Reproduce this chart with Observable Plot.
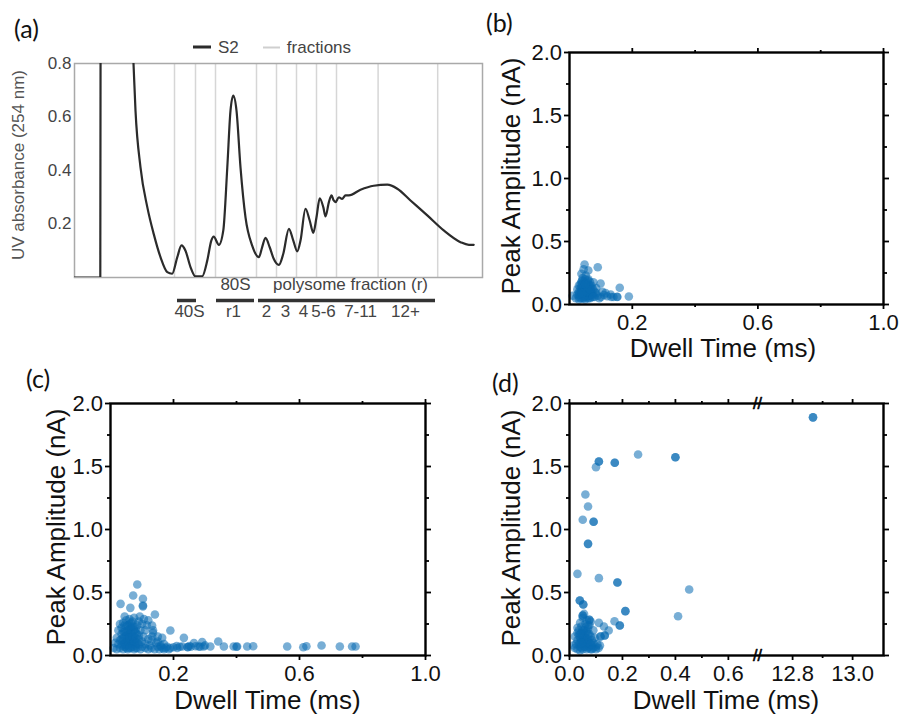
<!DOCTYPE html>
<html><head><meta charset="utf-8">
<script src="https://cdn.jsdelivr.net/npm/d3@7"></script>
<script src="https://cdn.jsdelivr.net/npm/@observablehq/plot@0.6"></script>
<style>
body{margin:0;background:#fff;}
#fig{position:relative;width:899px;height:714px;overflow:hidden;background:#fff;font-family:"Liberation Sans",Arial,sans-serif;}
.box{position:absolute;z-index:1;}
.t{position:absolute;white-space:nowrap;line-height:1;z-index:5;}
.plabel{font-family:Lato,"Open Sans",sans-serif;font-size:25px;color:#111;}
</style></head><body><div id="fig"></div>
<script>
// ---------------- Panel (a): UV absorbance trace ----------------
const traceX = [0,6.45,6.55,10,14,14.75,15.25,16.5,18.2,19.8,21.5,23.2,24.4,25.7,26.75,27.75,29,30.25,31.9,33.2,34.2,34.8,36.1,37.2,38.2,39,39.7,40.5,41.5,42.75,44.4,46.1,46.9,47.75,48.8,49.8,51.1,52.2,53.6,54.7,55.7,56.5,57.75,58.8,59.7,60.5,61.3,62.2,62.75,63.6,64.25,64.8,65.25,66.1,66.9,67.75,68.6,71.5,74.8,78.2,80.7,84,88.2,92.3,96.5,98.6,99.8];
const traceY = [0,0,1.3,1.6,1.0,0.8,0.624,0.412,0.263,0.163,0.076,0.02,0.014,0.076,0.12,0.1,0.039,0.004,0.004,0.064,0.138,0.153,0.122,0.176,0.412,0.624,0.68,0.624,0.412,0.225,0.12,0.076,0.113,0.148,0.113,0.07,0.047,0.089,0.182,0.138,0.098,0.138,0.257,0.213,0.167,0.225,0.296,0.263,0.228,0.282,0.307,0.288,0.282,0.3,0.294,0.307,0.307,0.328,0.343,0.347,0.332,0.288,0.232,0.176,0.132,0.122,0.122];
const fractionEdges = [25,30.25,35.25,45.5,50.5,55.5,60.5,65.5,75.9,90.8];
const groupNames = ["40S","80S","polysome fraction (r)"];
const groupStart = [25.75,35.5,46];
const groupEnd = [30.5,45,90.25];
const groupTitleX = [null,40.25,69];
const fractionNames = ["40S","r1","2","3","4","5-6","7-11","12+"];
const fractionNameX = [28.75,39.75,48,52.75,57.25,62.25,71.5,82.75];
const uvTicks = [0.2,0.4,0.6,0.8];

// ---------------- Panels (b)-(d): dwell time (ms), peak amplitude (nA) ----------------
const panelB = [
[0.02,0.05],[0.025,0.08],[0.03,0.06],[0.03,0.1],[0.035,0.13],[0.035,0.05],[0.04,0.07],[0.04,0.16],[0.04,0.19],[0.045,0.09],
[0.045,0.12],[0.045,0.05],[0.05,0.06],[0.05,0.14],[0.05,0.2],[0.055,0.08],[0.055,0.11],[0.055,0.17],[0.06,0.05],[0.06,0.09],
[0.06,0.13],[0.065,0.07],[0.065,0.15],[0.07,0.06],[0.07,0.1],[0.075,0.08],[0.075,0.12],[0.08,0.06],[0.085,0.09],[0.09,0.07],
[0.03,0.04],[0.035,0.08],[0.04,0.11],[0.045,0.15],[0.05,0.1],[0.05,0.04],[0.055,0.06],[0.06,0.11],[0.065,0.05],[0.07,0.13],
[0.038,0.18],[0.048,0.17],[0.058,0.19],[0.042,0.21],[0.052,0.23],[0.025,0.12],[0.03,0.15],[0.065,0.18],[0.07,0.08],[0.08,0.1],
[0.035,0.1],[0.04,0.13],[0.045,0.07],[0.05,0.08],[0.05,0.12],[0.055,0.14],[0.06,0.07],[0.06,0.16],[0.065,0.1],[0.07,0.15],
[0.035,0.16],[0.04,0.05],[0.045,0.18],[0.055,0.1],[0.06,0.2],[0.065,0.12],[0.075,0.06],[0.03,0.08],[0.04,0.09],[0.05,0.16],
[0.048,0.317],[0.09,0.296],[0.16,0.133],[0.189,0.063],[0.038,0.244],[0.131,0.079],[0.099,0.167],[0.076,0.177],[0.01,0.07],[0.1,0.06],
[0.11,0.075],[0.12,0.065],[0.14,0.06],[0.152,0.06],[0.105,0.1],[0.085,0.13],[0.095,0.05],[0.133,0.06],[0.06,0.27],[0.045,0.28],
[0.152,0.062],[0.115,0.09]
];
const panelC = [
[0.02,0.05],[0.025,0.09],[0.03,0.06],[0.03,0.12],[0.035,0.17],[0.035,0.22],[0.04,0.05],[0.04,0.09],[0.04,0.14],[0.04,0.26],
[0.045,0.19],[0.045,0.07],[0.05,0.11],[0.05,0.16],[0.05,0.23],[0.05,0.28],[0.055,0.05],[0.055,0.08],[0.055,0.13],[0.055,0.2],
[0.06,0.1],[0.06,0.17],[0.06,0.25],[0.06,0.29],[0.065,0.06],[0.065,0.14],[0.065,0.22],[0.07,0.09],[0.07,0.12],[0.07,0.19],
[0.07,0.27],[0.075,0.05],[0.075,0.15],[0.08,0.08],[0.08,0.11],[0.08,0.21],[0.085,0.06],[0.085,0.17],[0.09,0.09],[0.09,0.13],
[0.095,0.05],[0.095,0.2],[0.1,0.07],[0.1,0.11],[0.105,0.15],[0.11,0.06],[0.11,0.09],[0.115,0.24],[0.12,0.05],[0.12,0.13],
[0.125,0.08],[0.13,0.06],[0.135,0.18],[0.14,0.05],[0.145,0.1],[0.15,0.07],[0.155,0.05],[0.16,0.08],[0.165,0.06],[0.17,0.05],
[0.175,0.06],[0.18,0.07],[0.185,0.05],[0.01,0.06],[0.015,0.1],[0.02,0.14],[0.025,0.2],[0.03,0.25],[0.045,0.31],[0.075,0.3],
[0.09,0.27],[0.1,0.25],[0.11,0.2],[0.12,0.28],[0.045,0.1],[0.055,0.16],[0.065,0.1],[0.075,0.2],[0.05,0.06],[0.06,0.21],
[0.04,0.11],[0.045,0.15],[0.05,0.08],[0.05,0.19],[0.055,0.11],[0.055,0.24],[0.06,0.06],[0.06,0.14],[0.065,0.18],[0.065,0.26],
[0.07,0.07],[0.07,0.15],[0.075,0.11],[0.075,0.23],[0.08,0.06],[0.08,0.14],[0.085,0.1],[0.085,0.24],[0.09,0.16],[0.035,0.08],
[0.035,0.13],[0.04,0.19],[0.045,0.24],[0.07,0.23],[0.08,0.18],
[0.085,0.563],[0.072,0.476],[0.103,0.45],[0.032,0.41],[0.103,0.397],[0.103,0.39],[0.063,0.378],[0.141,0.325],[0.093,0.31],[0.106,0.29],
[0.132,0.238],[0.19,0.198],[0.164,0.14],[0.233,0.14],[0.132,0.151],[0.265,0.098],[0.291,0.106],[0.342,0.111],[0.317,0.071],[0.36,0.071],
[0.391,0.071],[0.402,0.071],[0.434,0.071],[0.453,0.074],[0.561,0.071],[0.612,0.066],[0.622,0.074],[0.67,0.079],[0.728,0.071],[0.767,0.071],
[0.778,0.071],[0.159,0.071],[0.2,0.066],[0.212,0.06],[0.228,0.071],[0.245,0.066],[0.255,0.07],[0.27,0.074],[0.28,0.071],[0.296,0.071],
[0.19,0.06],[0.22,0.07],[0.25,0.075],[0.3,0.08],[0.21,0.075],[0.4,0.07],[0.13,0.12],[0.15,0.11],[0.17,0.09],[0.135,0.2],
[0.15,0.15],[0.245,0.068],[0.285,0.07]
];
const panelD = [
[0.02,0.06],[0.025,0.09],[0.03,0.05],[0.03,0.12],[0.035,0.16],[0.035,0.2],[0.04,0.07],[0.04,0.1],[0.04,0.14],[0.045,0.18],
[0.045,0.23],[0.05,0.05],[0.05,0.09],[0.05,0.12],[0.05,0.16],[0.055,0.2],[0.055,0.07],[0.06,0.11],[0.06,0.14],[0.06,0.18],
[0.06,0.25],[0.065,0.05],[0.065,0.09],[0.07,0.13],[0.07,0.17],[0.07,0.21],[0.075,0.07],[0.075,0.1],[0.08,0.05],[0.08,0.15],
[0.085,0.08],[0.085,0.12],[0.09,0.06],[0.09,0.1],[0.095,0.14],[0.1,0.07],[0.1,0.05],[0.105,0.09],[0.11,0.06],[0.115,0.08],
[0.04,0.26],[0.05,0.3],[0.065,0.28],[0.08,0.27],[0.09,0.2],[0.03,0.22],[0.02,0.15],[0.015,0.08],[0.055,0.33],[0.075,0.24],
[0.045,0.12],[0.055,0.15],[0.065,0.19],[0.04,0.04],[0.07,0.06],[0.035,0.09],[0.045,0.06],[0.05,0.2],[0.055,0.1],[0.06,0.07],
[0.065,0.13],[0.07,0.1],[0.075,0.17],[0.08,0.09],[0.085,0.05],[0.03,0.18],[0.04,0.17],[0.06,0.22],[0.07,0.24],[0.045,0.1],
[12.868,1.89],[12.868,1.89],[0.259,1.595],[0.4,1.574],[0.4,1.574],[0.111,1.54],[0.111,1.54],[0.171,1.53],[0.171,1.53],[0.1,1.495],
[0.06,1.278],[0.07,1.183],[0.05,1.077],[0.091,1.061],[0.091,1.061],[0.07,0.886],[0.07,0.886],[0.03,0.648],[0.111,0.614],[0.181,0.579],
[0.181,0.579],[0.452,0.524],[0.039,0.437],[0.039,0.437],[0.052,0.405],[0.052,0.405],[0.211,0.352],[0.211,0.352],[0.41,0.312],[0.05,0.317],
[0.05,0.317],[0.075,0.283],[0.075,0.283],[0.111,0.259],[0.17,0.272],[0.19,0.238],[0.19,0.238],[0.13,0.23],[0.148,0.198],[0.133,0.159],
[0.133,0.159],[0.117,0.151],[0.117,0.151]
];
const ampMajor = [0,0.5,1,1.5,2];
const ampMinor = [0.25,0.75,1.25,1.75];
const dwellMajorBC = [0.2,0.6,1.0];
const dwellMinorBC = [0.4,0.8];
const dwellMajorD = [0,0.2,0.4,0.6,12.8,13.0];
const dwellMinorD = [0.1,0.3,0.5,12.9];
const dwellDomainD = [0,0.71,12.683,13.103];
const breakAt = [0.71];

// ---------------- helpers ----------------
const fig = document.getElementById("fig");
function place(node, left, top) {
  const d = document.createElement("div");
  d.className = "box"; d.style.left = left + "px"; d.style.top = top + "px";
  d.appendChild(node); fig.appendChild(d);
}
function text(str, cx, cy, css = {}, rotate = false) {
  const d = document.createElement("div");
  d.className = "t"; d.textContent = str;
  d.style.left = cx + "px"; d.style.top = cy + "px";
  d.style.transform = "translate(-50%,-50%)" + (rotate ? " rotate(-90deg)" : "");
  Object.assign(d.style, css);
  fig.appendChild(d);
  return d;
}
function plabel(str, left, cy) {
  const d = document.createElement("div");
  d.className = "t plabel"; d.textContent = str;
  d.style.left = left + "px"; d.style.top = cy + "px";
  d.style.transform = "translate(0,-50%)";
  fig.appendChild(d);
}
const toRows = (arr) => arr.map(([dwell, amp]) => ({dwell, amp}));
const f1 = d3.format(".1f");
const blank = () => "";
const DOT = "#0a6cb2";

// ---------------- Panel (a) ----------------
const trace = traceX.map((x, i) => ({x, y: traceY[i]}));
const groups = groupNames.map((name, i) => ({name, x1: groupStart[i], x2: groupEnd[i], tx: groupTitleX[i]}));
const fracLabels = fractionNames.map((name, i) => ({name, x: fractionNameX[i]}));
const A = Plot.plot({
  width: 490, height: 275,
  marginTop: 8, marginRight: 8, marginBottom: 53, marginLeft: 74,
  style: {fontFamily: '"Liberation Sans", Arial, sans-serif', fontSize: "17px", color: "#444", background: "transparent"},
  x: {domain: [0, 102], label: null, axis: null},
  y: {domain: [0, 0.8], label: null},
  marks: [
    Plot.ruleX(fractionEdges, {stroke: "#d6d6d6", strokeWidth: 1.5}),
    Plot.frame({stroke: "#a9a9a9", strokeWidth: 1.5}),
    Plot.line(trace, {x: "x", y: "y", curve: "monotone-x", stroke: "#2b2b2b", strokeWidth: 2.2, clip: true}),
    Plot.axisY({anchor: "left", ticks: uvTicks, tickSize: 0, tickPadding: 3, tickFormat: f1, label: null}),
    Plot.ruleY(groups, {y: 0, x1: "x1", x2: "x2", dy: 23, stroke: "#333", strokeWidth: 3.5}),
    Plot.text(groups.filter(d => d.tx != null), {x: "tx", text: "name", frameAnchor: "bottom", dy: 12.5, fill: "#444"}),
    Plot.text(fracLabels, {x: "x", text: "name", frameAnchor: "bottom", dy: 39.5, fill: "#444"})
  ]
});
place(A, 0, 55);
text("UV absorbance (254 nm)", 17.5, 165, {fontSize: "17px", color: "#555"}, true);
// legend
const legend = document.createElement("div");
legend.className = "t";
legend.style.left = "193px"; legend.style.top = "47px"; legend.style.transform = "translate(0,-50%)";
legend.style.fontSize = "17px"; legend.style.color = "#444"; legend.style.display = "flex"; legend.style.alignItems = "center";
legend.innerHTML = '<span style="display:inline-block;width:18px;height:3.5px;background:#2b2b2b;margin-right:7px"></span>S2' +
  '<span style="display:inline-block;width:17px;height:2px;background:#cfcfcf;margin:0 7px 0 24px"></span>fractions';
fig.appendChild(legend);
plabel("(a)", 14, 28);

// ---------------- scatter panels ----------------
function scatter(rows, cfg) {
  const {width, height, marginTop, marginRight, marginBottom, marginLeft, x, xMajor, xMinor, extra = []} = cfg;
  const tk = {stroke: "#000", strokeWidth: 1.8, label: null};
  return Plot.plot({
    width, height, marginTop, marginRight, marginBottom, marginLeft,
    style: {fontFamily: '"Liberation Sans", Arial, sans-serif', fontSize: "22px", color: "#111", background: "transparent"},
    x: {...x, label: null},
    y: {domain: [0, 2], label: null},
    marks: [
      Plot.dot(rows, {x: "dwell", y: "amp", r: 4.3, fill: DOT, fillOpacity: 0.55}),
      Plot.frame({stroke: "#000", strokeWidth: 2.4}),
      Plot.axisY({...tk, anchor: "left", ticks: ampMajor, tickSize: 5, tickPadding: 2.5, tickFormat: f1}),
      Plot.axisY({...tk, anchor: "left", ticks: ampMinor, tickSize: 3, tickFormat: blank}),
      Plot.axisY({...tk, anchor: "right", ticks: ampMajor, tickSize: 5, tickFormat: blank}),
      Plot.axisY({...tk, anchor: "right", ticks: ampMinor, tickSize: 3, tickFormat: blank}),
      Plot.axisX({...tk, anchor: "bottom", ticks: xMajor, tickSize: 5, tickPadding: 5, tickFormat: f1}),
      Plot.axisX({...tk, anchor: "bottom", ticks: xMinor, tickSize: 3, tickFormat: blank}),
      Plot.axisX({...tk, anchor: "top", ticks: xMajor, tickSize: 5, tickFormat: blank}),
      Plot.axisX({...tk, anchor: "top", ticks: xMinor, tickSize: 3, tickFormat: blank}),
      ...extra
    ]
  });
}

// (b)
place(scatter(toRows(panelB), {width: 379, height: 320, marginTop: 22, marginRight: 16, marginBottom: 46, marginLeft: 49,
  x: {domain: [0, 1]}, xMajor: dwellMajorBC, xMinor: dwellMinorBC}), 520, 30);
// (c)
place(scatter(toRows(panelC), {width: 420, height: 334, marginTop: 23, marginRight: 35, marginBottom: 59, marginLeft: 70,
  x: {domain: [0, 1]}, xMajor: dwellMajorBC, xMinor: dwellMinorBC}), 40, 380);
// (d) with broken x axis
const brk = (anchor) => Plot.text(breakAt, {x: d => d, frameAnchor: anchor, text: () => "//", fontSize: 16, fill: "#000", stroke: "#000", strokeWidth: 0.6, lineAnchor: "middle"});
place(scatter(toRows(panelD), {width: 379, height: 334, marginTop: 23, marginRight: 16, marginBottom: 59, marginLeft: 49,
  x: {type: "linear", domain: dwellDomainD, range: [49, 237, 237, 363]}, xMajor: dwellMajorD, xMinor: dwellMinorD,
  extra: [brk("top"), brk("bottom")]}), 520, 380);

// titles
const tcss = {fontSize: "26px", color: "#111"};
text("Peak Amplitude (nA)", 511, 176, tcss, true);
text("Peak Amplitude (nA)", 55.5, 527, tcss, true);
text("Peak Amplitude (nA)", 511, 528, tcss, true);
text("Dwell Time (ms)", 723, 348, tcss);
text("Dwell Time (ms)", 267.5, 699.5, tcss);
text("Dwell Time (ms)", 726, 699.5, tcss);
plabel("(b)", 486, 22);
plabel("(c)", 26, 378);
plabel("(d)", 492, 382);
</script></body></html>
